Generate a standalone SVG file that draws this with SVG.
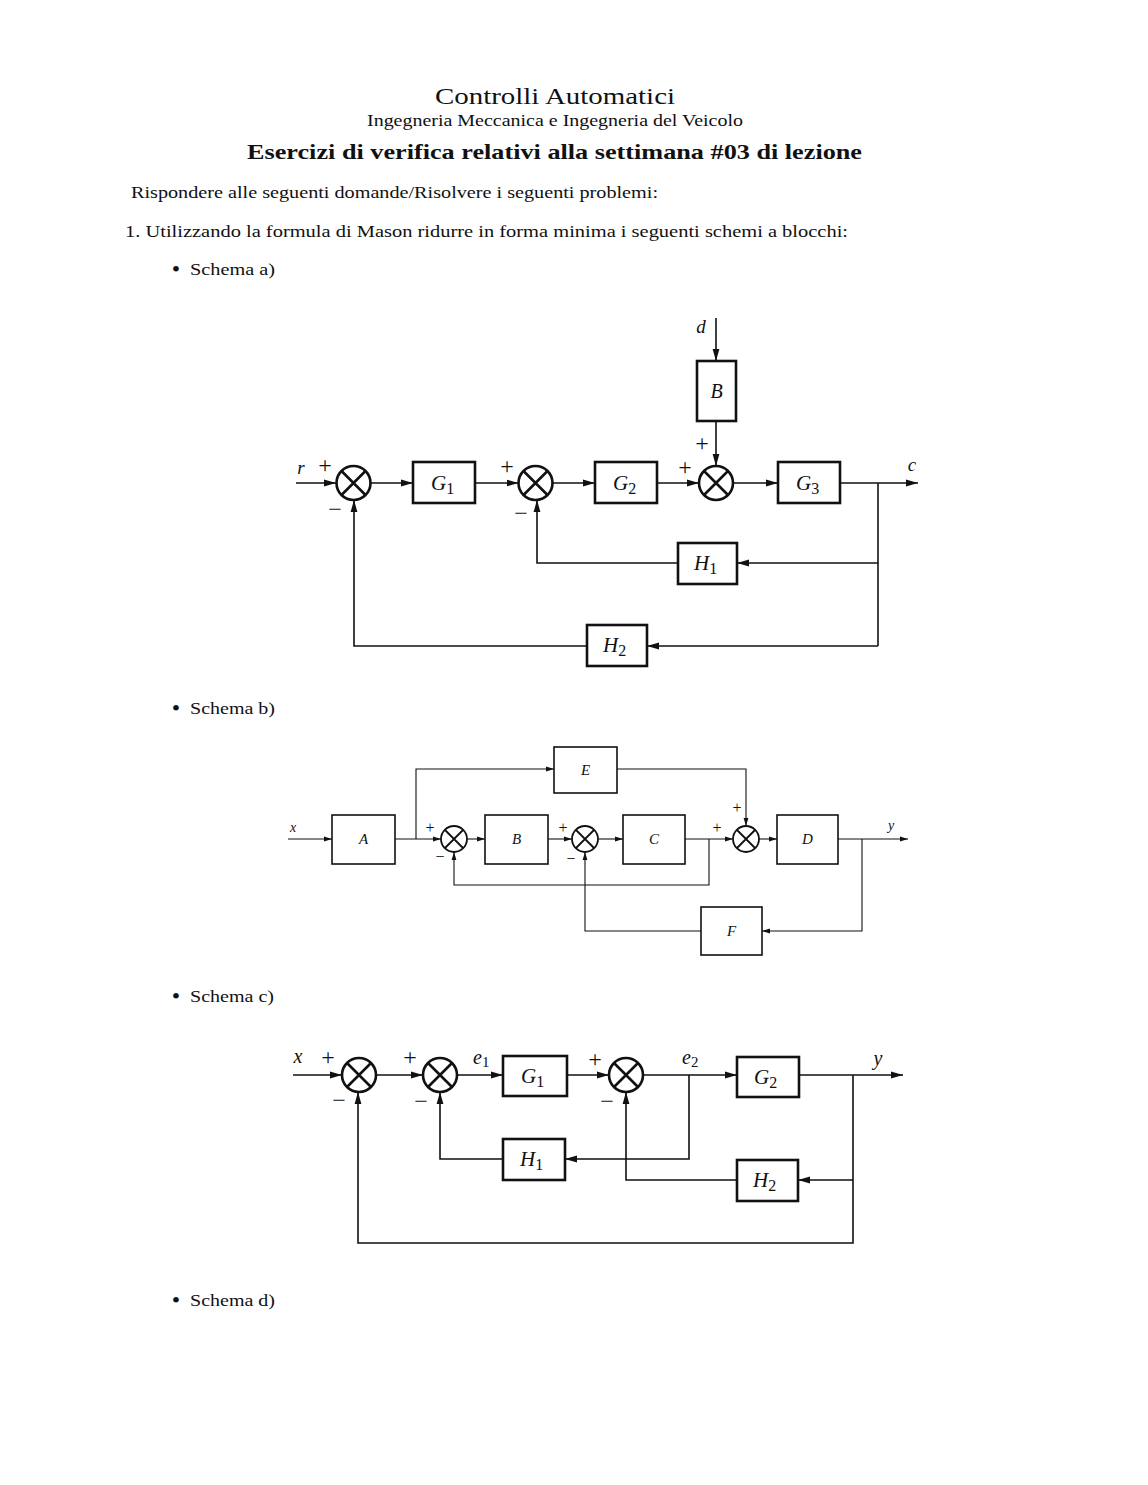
<svg xmlns="http://www.w3.org/2000/svg" width="1148" height="1485" viewBox="0 0 1148 1485">
<style>
.bg{fill:#fff}
.t{font-family:"Liberation Serif","DejaVu Serif",serif;fill:#111}
.m{font-family:"Liberation Serif","DejaVu Serif",serif;font-style:italic;fill:#111}
.s{font-family:"Liberation Serif","DejaVu Serif",serif;fill:#111}
.boxA{fill:none;stroke:#111;stroke-width:2.6}
.boxB{fill:none;stroke:#111;stroke-width:1.6}
.sumA{fill:none;stroke:#111;stroke-width:2.6}
.sumB{fill:none;stroke:#111;stroke-width:1.8}
.lnA{fill:none;stroke:#111;stroke-width:1.6}
.lnB{fill:none;stroke:#111;stroke-width:1.1}
</style>
<defs>
<marker id="arA" markerWidth="13" markerHeight="8" refX="12" refY="4" orient="auto" markerUnits="userSpaceOnUse"><path d="M0,0.6 L12,4 L0,7.4 Z" fill="#111"/></marker>
<marker id="arB" markerWidth="9" markerHeight="6" refX="8" refY="3" orient="auto" markerUnits="userSpaceOnUse"><path d="M0,0.6 L8,3 L0,5.4 Z" fill="#111"/></marker>
</defs>
<rect class="bg" x="0" y="0" width="1148" height="1485"/>

<g id="header">
<text class="t" x="555" y="104" font-size="24" text-anchor="middle" textLength="240" lengthAdjust="spacingAndGlyphs">Controlli Automatici</text>
<text class="t" x="555" y="126" font-size="17" text-anchor="middle" textLength="376" lengthAdjust="spacingAndGlyphs">Ingegneria Meccanica e Ingegneria del Veicolo</text>
<text class="t" x="554.5" y="159" font-size="21" font-weight="bold" text-anchor="middle" textLength="615" lengthAdjust="spacingAndGlyphs">Esercizi di verifica relativi alla settimana #03 di lezione</text>
<text class="t" x="131" y="198" font-size="17" textLength="527" lengthAdjust="spacingAndGlyphs">Rispondere alle seguenti domande/Risolvere i seguenti problemi:</text>
<text class="t" x="125" y="237" font-size="17" textLength="723" lengthAdjust="spacingAndGlyphs">1. Utilizzando la formula di Mason ridurre in forma minima i seguenti schemi a blocchi:</text>
<text class="t" x="176" y="277" font-size="24" text-anchor="middle">•</text>
<text class="t" x="190" y="275" font-size="17" textLength="85" lengthAdjust="spacingAndGlyphs">Schema a)</text>
<text class="t" x="176" y="716" font-size="24" text-anchor="middle">•</text>
<text class="t" x="190" y="714" font-size="17" textLength="85" lengthAdjust="spacingAndGlyphs">Schema b)</text>
<text class="t" x="176" y="1004" font-size="24" text-anchor="middle">•</text>
<text class="t" x="190" y="1002" font-size="17" textLength="84" lengthAdjust="spacingAndGlyphs">Schema c)</text>
<text class="t" x="176" y="1308" font-size="24" text-anchor="middle">•</text>
<text class="t" x="190" y="1306" font-size="17" textLength="85" lengthAdjust="spacingAndGlyphs">Schema d)</text>
</g>

<!-- ================= Schema a ================= -->
<g id="a-connectors">
<path class="lnA" d="M296,483 H336" marker-end="url(#arA)"/>
<path class="lnA" d="M370.5,483 H413" marker-end="url(#arA)"/>
<path class="lnA" d="M475,483 H518.5" marker-end="url(#arA)"/>
<path class="lnA" d="M552.5,483 H595" marker-end="url(#arA)"/>
<path class="lnA" d="M657,483 H699" marker-end="url(#arA)"/>
<path class="lnA" d="M733,483 H778" marker-end="url(#arA)"/>
<path class="lnA" d="M840,483 H918" marker-end="url(#arA)"/>
<path class="lnA" d="M716,318 V361" marker-end="url(#arA)"/>
<path class="lnA" d="M716,421 V466" marker-end="url(#arA)"/>
<path class="lnA" d="M878,483 V646"/>
<path class="lnA" d="M878,563 H737" marker-end="url(#arA)"/>
<path class="lnA" d="M678,563 H537 V500" marker-end="url(#arA)"/>
<path class="lnA" d="M878,646 H647" marker-end="url(#arA)"/>
<path class="lnA" d="M587,646 H354 V500" marker-end="url(#arA)"/>
</g>
<g id="a-S1"><circle class="sumA" cx="353.5" cy="483" r="17"/><path class="sumA" d="M341.5,471 L365.5,495 M365.5,471 L341.5,495"/></g>
<g id="a-S2"><circle class="sumA" cx="535.5" cy="483" r="17"/><path class="sumA" d="M523.5,471 L547.5,495 M547.5,471 L523.5,495"/></g>
<g id="a-S3"><circle class="sumA" cx="716" cy="483" r="17"/><path class="sumA" d="M704,471 L728,495 M728,471 L704,495"/></g>
<g id="a-G1"><rect class="boxA" x="413" y="462" width="62" height="41"/><text class="m" x="431" y="490" font-size="21">G<tspan class="s" font-style="normal" font-size="16" dy="4">1</tspan></text></g>
<g id="a-G2"><rect class="boxA" x="595" y="462" width="62" height="41"/><text class="m" x="613" y="490" font-size="21">G<tspan class="s" font-style="normal" font-size="16" dy="4">2</tspan></text></g>
<g id="a-G3"><rect class="boxA" x="778" y="462" width="62" height="41"/><text class="m" x="796" y="490" font-size="21">G<tspan class="s" font-style="normal" font-size="16" dy="4">3</tspan></text></g>
<g id="a-B"><rect class="boxA" x="697" y="361" width="39" height="60"/><text class="m" x="716.5" y="398" font-size="20" text-anchor="middle">B</text></g>
<g id="a-H1"><rect class="boxA" x="678" y="543" width="59" height="41"/><text class="m" x="694" y="570" font-size="21">H<tspan class="s" font-style="normal" font-size="16" dy="4">1</tspan></text></g>
<g id="a-H2"><rect class="boxA" x="587" y="625" width="60" height="41"/><text class="m" x="603" y="652" font-size="21">H<tspan class="s" font-style="normal" font-size="16" dy="4">2</tspan></text></g>
<g id="a-labels">
<text class="m" x="301" y="474" font-size="19" text-anchor="middle">r</text>
<text class="s" x="325" y="473" font-size="24" text-anchor="middle">+</text>
<text class="s" x="335" y="517" font-size="24" text-anchor="middle">−</text>
<text class="s" x="507" y="474" font-size="24" text-anchor="middle">+</text>
<text class="s" x="521" y="521" font-size="24" text-anchor="middle">−</text>
<text class="s" x="685" y="475" font-size="24" text-anchor="middle">+</text>
<text class="s" x="702" y="451" font-size="24" text-anchor="middle">+</text>
<text class="m" x="701" y="333" font-size="19" text-anchor="middle">d</text>
<text class="m" x="912" y="471" font-size="19" text-anchor="middle">c</text>
</g>

<!-- ================= Schema b ================= -->
<g id="b-connectors">
<path class="lnB" d="M288,839 H332" marker-end="url(#arB)"/>
<path class="lnB" d="M395,839 H441" marker-end="url(#arB)"/>
<path class="lnB" d="M416,839 V769 H554" marker-end="url(#arB)"/>
<path class="lnB" d="M467,839 H485" marker-end="url(#arB)"/>
<path class="lnB" d="M548,839 H572" marker-end="url(#arB)"/>
<path class="lnB" d="M598,839 H623" marker-end="url(#arB)"/>
<path class="lnB" d="M685,839 H733" marker-end="url(#arB)"/>
<path class="lnB" d="M617,769 H746 V826" marker-end="url(#arB)"/>
<path class="lnB" d="M759,839 H777" marker-end="url(#arB)"/>
<path class="lnB" d="M838,839 H908" marker-end="url(#arB)"/>
<path class="lnB" d="M862,839 V931 H762" marker-end="url(#arB)"/>
<path class="lnB" d="M701,931 H585 V852" marker-end="url(#arB)"/>
<path class="lnB" d="M709,839 V885 H454 V852" marker-end="url(#arB)"/>
</g>
<g id="b-S1"><circle class="sumB" cx="454" cy="839" r="13"/><path class="sumB" d="M445,830 L463,848 M463,830 L445,848"/></g>
<g id="b-S2"><circle class="sumB" cx="585" cy="839" r="13"/><path class="sumB" d="M576,830 L594,848 M594,830 L576,848"/></g>
<g id="b-S3"><circle class="sumB" cx="746" cy="839" r="13"/><path class="sumB" d="M737,830 L755,848 M755,830 L737,848"/></g>
<g id="b-A"><rect class="boxB" x="332" y="815" width="63" height="49"/><text class="m" x="363.5" y="844" font-size="15" text-anchor="middle">A</text></g>
<g id="b-B"><rect class="boxB" x="485" y="815" width="63" height="49"/><text class="m" x="516.5" y="844" font-size="15" text-anchor="middle">B</text></g>
<g id="b-C"><rect class="boxB" x="623" y="815" width="62" height="49"/><text class="m" x="654" y="844" font-size="15" text-anchor="middle">C</text></g>
<g id="b-D"><rect class="boxB" x="777" y="815" width="61" height="49"/><text class="m" x="807.5" y="844" font-size="15" text-anchor="middle">D</text></g>
<g id="b-E"><rect class="boxB" x="554" y="747" width="63" height="46"/><text class="m" x="585.5" y="775" font-size="15" text-anchor="middle">E</text></g>
<g id="b-F"><rect class="boxB" x="701" y="907" width="61" height="48"/><text class="m" x="731.5" y="936" font-size="15" text-anchor="middle">F</text></g>
<g id="b-labels">
<text class="m" x="293" y="832" font-size="14" text-anchor="middle">x</text>
<text class="s" x="430" y="833" font-size="16" text-anchor="middle">+</text>
<text class="s" x="440" y="862" font-size="16" text-anchor="middle">−</text>
<text class="s" x="563" y="833" font-size="16" text-anchor="middle">+</text>
<text class="s" x="571" y="864" font-size="16" text-anchor="middle">−</text>
<text class="s" x="717" y="833" font-size="16" text-anchor="middle">+</text>
<text class="s" x="737" y="813" font-size="16" text-anchor="middle">+</text>
<text class="m" x="891" y="830" font-size="14" text-anchor="middle">y</text>
</g>

<!-- ================= Schema c ================= -->
<g id="c-connectors">
<path class="lnA" d="M293,1075 H342" marker-end="url(#arA)"/>
<path class="lnA" d="M376,1075 H423" marker-end="url(#arA)"/>
<path class="lnA" d="M457,1075 H503" marker-end="url(#arA)"/>
<path class="lnA" d="M567,1075 H609" marker-end="url(#arA)"/>
<path class="lnA" d="M643,1075 H737" marker-end="url(#arA)"/>
<path class="lnA" d="M799,1075 H903" marker-end="url(#arA)"/>
<path class="lnA" d="M689,1075 V1159 H565" marker-end="url(#arA)"/>
<path class="lnA" d="M503,1159 H440 V1092" marker-end="url(#arA)"/>
<path class="lnA" d="M853,1075 V1243 H358 V1092" marker-end="url(#arA)"/>
<path class="lnA" d="M853,1180 H798" marker-end="url(#arA)"/>
<path class="lnA" d="M737,1180 H626 V1092" marker-end="url(#arA)"/>
</g>
<g id="c-S1"><circle class="sumA" cx="359" cy="1075" r="17"/><path class="sumA" d="M347,1063 L371,1087 M371,1063 L347,1087"/></g>
<g id="c-S2"><circle class="sumA" cx="440" cy="1075" r="17"/><path class="sumA" d="M428,1063 L452,1087 M452,1063 L428,1087"/></g>
<g id="c-S3"><circle class="sumA" cx="626" cy="1075" r="17"/><path class="sumA" d="M614,1063 L638,1087 M638,1063 L614,1087"/></g>
<g id="c-G1"><rect class="boxA" x="503" y="1056" width="64" height="40"/><text class="m" x="521" y="1083" font-size="21">G<tspan class="s" font-style="normal" font-size="16" dy="4">1</tspan></text></g>
<g id="c-H1"><rect class="boxA" x="503" y="1139" width="62" height="41"/><text class="m" x="520" y="1166" font-size="21">H<tspan class="s" font-style="normal" font-size="16" dy="4">1</tspan></text></g>
<g id="c-G2"><rect class="boxA" x="737" y="1057" width="62" height="40"/><text class="m" x="754" y="1084" font-size="21">G<tspan class="s" font-style="normal" font-size="16" dy="4">2</tspan></text></g>
<g id="c-H2"><rect class="boxA" x="737" y="1160" width="61" height="41"/><text class="m" x="753" y="1187" font-size="21">H<tspan class="s" font-style="normal" font-size="16" dy="4">2</tspan></text></g>
<g id="c-labels">
<text class="m" x="298" y="1063" font-size="20" text-anchor="middle">x</text>
<text class="s" x="328" y="1065" font-size="24" text-anchor="middle">+</text>
<text class="s" x="339" y="1108" font-size="24" text-anchor="middle">−</text>
<text class="s" x="410" y="1065" font-size="24" text-anchor="middle">+</text>
<text class="s" x="421" y="1109" font-size="24" text-anchor="middle">−</text>
<text class="m" x="473" y="1064" font-size="20">e<tspan class="s" font-style="normal" font-size="15" dy="3">1</tspan></text>
<text class="s" x="595" y="1067" font-size="24" text-anchor="middle">+</text>
<text class="s" x="607" y="1109" font-size="24" text-anchor="middle">−</text>
<text class="m" x="682" y="1064" font-size="20">e<tspan class="s" font-style="normal" font-size="15" dy="3">2</tspan></text>
<text class="m" x="878" y="1065" font-size="20" text-anchor="middle">y</text>
</g>
</svg>
